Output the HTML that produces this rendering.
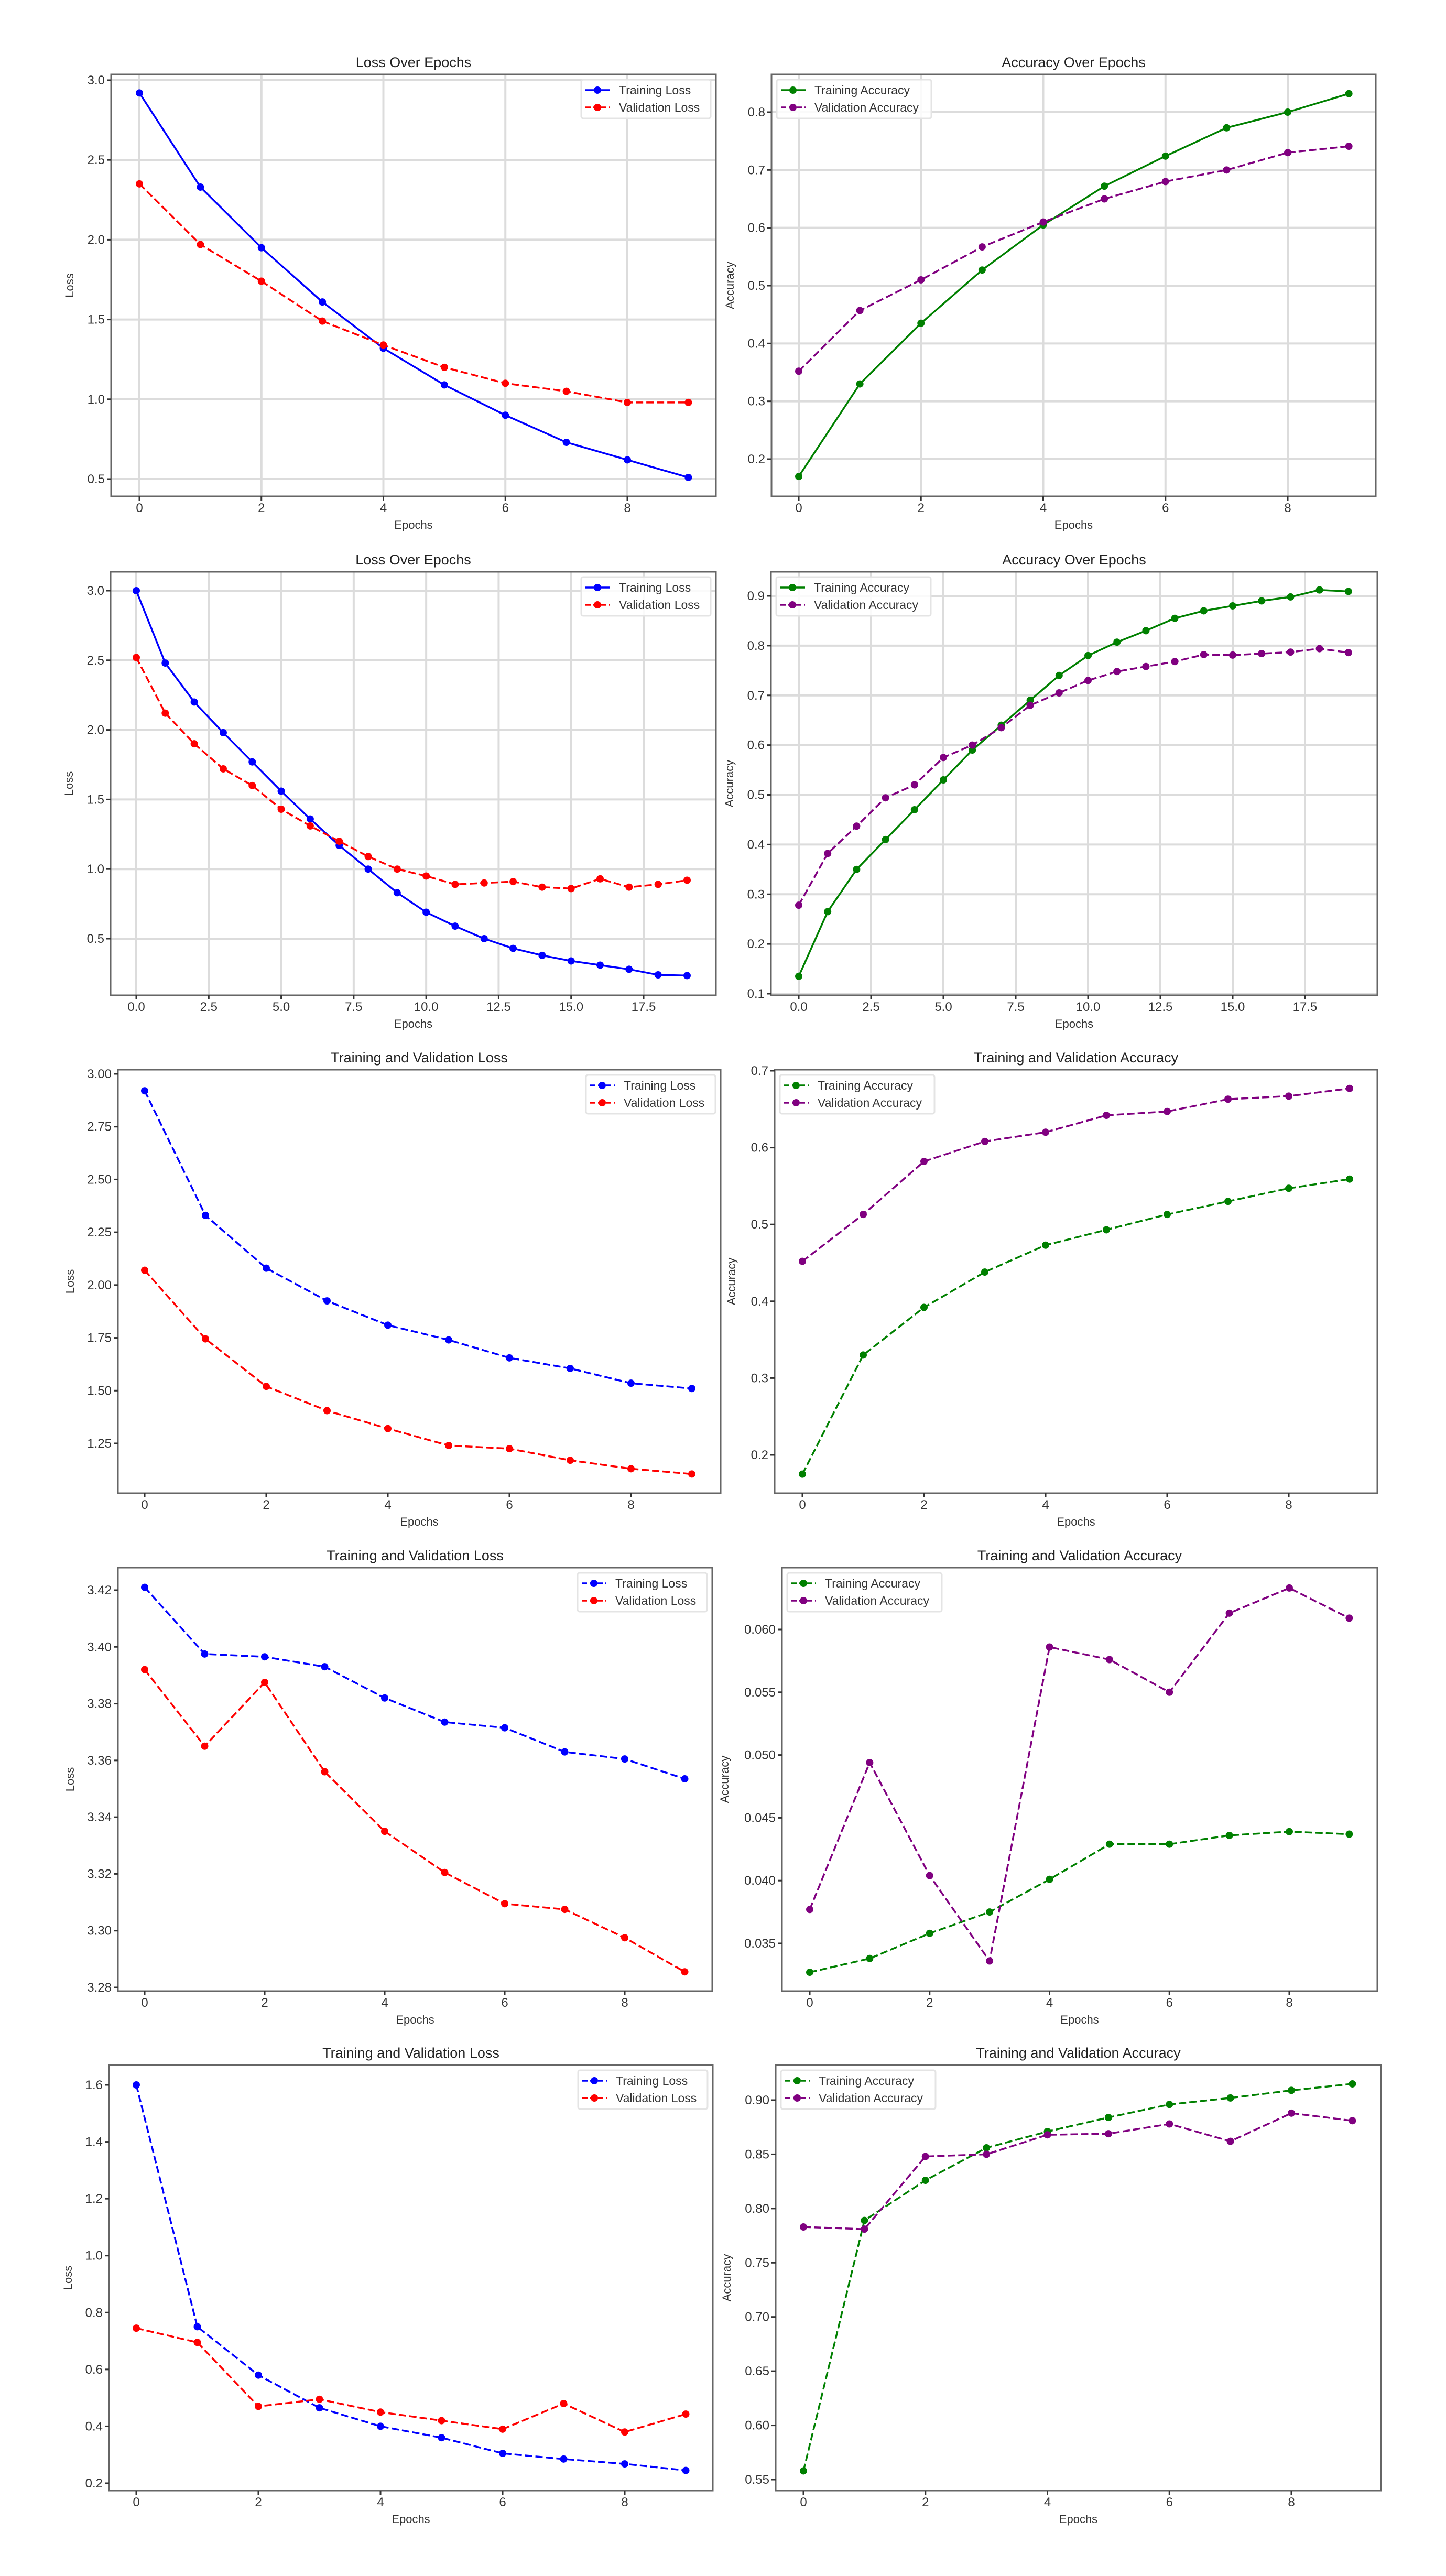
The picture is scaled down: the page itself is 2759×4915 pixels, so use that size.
<!DOCTYPE html>
<html><head><meta charset="utf-8"><style>
html,body{margin:0;padding:0;background:#fff;}
svg{display:block;font-family:"Liberation Sans",sans-serif;}
</style></head>
<body>
<svg id="fig" xmlns="http://www.w3.org/2000/svg" width="2759" height="4915" viewBox="0 0 2759 4915"></svg>
<script>
// ---- data ----
const epochs10 = [0,1,2,3,4,5,6,7,8,9];
const epochs20 = [0,1,2,3,4,5,6,7,8,9,10,11,12,13,14,15,16,17,18,19];
const xTicks10 = [0,2,4,6,8];
const xTickLabels10 = ["0","2","4","6","8"];
const xTicks20 = [0,2.5,5,7.5,10,12.5,15,17.5];
const xTickLabels20 = ["0.0","2.5","5.0","7.5","10.0","12.5","15.0","17.5"];

const r1TrainLoss = [2.92,2.33,1.95,1.61,1.32,1.09,0.90,0.73,0.62,0.51];
const r1ValLoss = [2.35,1.97,1.74,1.49,1.34,1.20,1.10,1.05,0.98,0.98];
const r1TrainAcc = [0.17,0.33,0.435,0.527,0.605,0.672,0.724,0.773,0.80,0.832];
const r1ValAcc = [0.352,0.457,0.51,0.567,0.61,0.65,0.68,0.70,0.73,0.741];

const r2TrainLoss = [3.0,2.48,2.2,1.98,1.77,1.56,1.36,1.17,1.0,0.83,0.69,0.59,0.50,0.43,0.38,0.34,0.31,0.28,0.24,0.235];
const r2ValLoss = [2.52,2.12,1.90,1.72,1.60,1.43,1.31,1.20,1.09,1.00,0.95,0.89,0.90,0.91,0.87,0.86,0.93,0.87,0.89,0.92];
const r2TrainAcc = [0.135,0.265,0.35,0.41,0.47,0.53,0.59,0.64,0.69,0.74,0.78,0.807,0.83,0.855,0.87,0.88,0.89,0.898,0.912,0.909];
const r2ValAcc = [0.278,0.382,0.437,0.494,0.52,0.575,0.60,0.635,0.68,0.705,0.73,0.748,0.758,0.768,0.782,0.781,0.784,0.787,0.794,0.786];

const r3TrainLoss = [2.92,2.33,2.08,1.925,1.81,1.74,1.655,1.605,1.535,1.51];
const r3ValLoss = [2.07,1.745,1.52,1.405,1.32,1.24,1.225,1.17,1.13,1.105];
const r3TrainAcc = [0.175,0.33,0.392,0.438,0.473,0.493,0.513,0.53,0.547,0.559];
const r3ValAcc = [0.452,0.513,0.582,0.608,0.62,0.642,0.647,0.663,0.667,0.677];

const r4TrainLoss = [3.421,3.3975,3.3965,3.393,3.382,3.3735,3.3715,3.363,3.3605,3.3535];
const r4ValLoss = [3.392,3.365,3.3875,3.356,3.335,3.3205,3.3095,3.3075,3.2975,3.2855];
const r4TrainAcc = [0.0327,0.0338,0.0358,0.0375,0.0401,0.0429,0.0429,0.0436,0.0439,0.0437];
const r4ValAcc = [0.0377,0.0494,0.0404,0.0336,0.0586,0.0576,0.0550,0.0613,0.0633,0.0609];

const r5TrainLoss = [1.60,0.75,0.58,0.465,0.40,0.36,0.305,0.285,0.268,0.245];
const r5ValLoss = [0.745,0.695,0.47,0.495,0.45,0.42,0.39,0.48,0.38,0.443];
const r5TrainAcc = [0.558,0.789,0.826,0.856,0.871,0.884,0.896,0.902,0.909,0.915];
const r5ValAcc = [0.783,0.781,0.848,0.85,0.868,0.869,0.878,0.862,0.888,0.881];

const lossTicks1 = [0.5,1.0,1.5,2.0,2.5,3.0];
const lossTickLabels1 = ["0.5","1.0","1.5","2.0","2.5","3.0"];
const accTicks1 = [0.2,0.3,0.4,0.5,0.6,0.7,0.8];
const accTickLabels1 = ["0.2","0.3","0.4","0.5","0.6","0.7","0.8"];
const accTicks2 = [0.1,0.2,0.3,0.4,0.5,0.6,0.7,0.8,0.9];
const accTickLabels2 = ["0.1","0.2","0.3","0.4","0.5","0.6","0.7","0.8","0.9"];
const lossTicks3 = [1.25,1.5,1.75,2.0,2.25,2.5,2.75,3.0];
const lossTickLabels3 = ["1.25","1.50","1.75","2.00","2.25","2.50","2.75","3.00"];
const accTicks3 = [0.2,0.3,0.4,0.5,0.6,0.7];
const accTickLabels3 = ["0.2","0.3","0.4","0.5","0.6","0.7"];
const lossTicks4 = [3.28,3.30,3.32,3.34,3.36,3.38,3.40,3.42];
const lossTickLabels4 = ["3.28","3.30","3.32","3.34","3.36","3.38","3.40","3.42"];
const accTicks4 = [0.035,0.040,0.045,0.050,0.055,0.060];
const accTickLabels4 = ["0.035","0.040","0.045","0.050","0.055","0.060"];
const lossTicks5 = [0.2,0.4,0.6,0.8,1.0,1.2,1.4,1.6];
const lossTickLabels5 = ["0.2","0.4","0.6","0.8","1.0","1.2","1.4","1.6"];
const accTicks5 = [0.55,0.60,0.65,0.70,0.75,0.80,0.85,0.90];
const accTickLabels5 = ["0.55","0.60","0.65","0.70","0.75","0.80","0.85","0.90"];

// ---- drawing ----
const NS = "http://www.w3.org/2000/svg";
const svg = document.getElementById("fig");
function mk(tag, parent){ const e=document.createElementNS(NS,tag); parent.appendChild(e); return e; }
function setA(e,o){ for(const k in o) e.setAttribute(k,o[k]); }

function panel(p){
  const g = mk("g", svg);
  
  
  const X = v => p.px0 + (v - p.xv0) * (p.px1 - p.px0) / (p.xv1 - p.xv0);
  const Y = v => p.py0 + (v - p.yv0) * (p.py1 - p.py0) / (p.yv1 - p.yv0);
  if (p.grid){
    p.xticks.forEach(t=>{ const l=mk("line",g); setA(l,{x1:X(t),x2:X(t),y1:p.top,y2:p.bottom,stroke:"#dcdcdc","stroke-width":4});
        });
    p.yticks.forEach(t=>{ const l=mk("line",g); setA(l,{x1:p.left,x2:p.right,y1:Y(t),y2:Y(t),stroke:"#dcdcdc","stroke-width":4});
        });
  }
  const fr = mk("rect", g);
  setA(fr,{x:p.left,y:p.top,width:p.right-p.left,height:p.bottom-p.top,fill:"none",stroke:"#666","stroke-width":3});
  
  
  p.xticks.forEach((t,i)=>{
    const l=mk("line",g); setA(l,{x1:X(t),x2:X(t),y1:p.bottom,y2:p.bottom+8,stroke:"#333","stroke-width":3});
     
    const tx=mk("text",g); setA(tx,{x:X(t),y:p.bottom+30,"font-size":24,"text-anchor":"middle",fill:"#333"}); tx.textContent=p.xlabels[i];
     
  });
  p.yticks.forEach((t,i)=>{
    const l=mk("line",g); setA(l,{x1:p.left-8,x2:p.left,y1:Y(t),y2:Y(t),stroke:"#333","stroke-width":3});
     
    const tx=mk("text",g); setA(tx,{x:p.left-12,y:Y(t)+8,"font-size":24,"text-anchor":"end",fill:"#333"}); tx.textContent=p.ylabels[i];
     
  });
  const tt=mk("text",g); setA(tt,{x:(p.left+p.right)/2,y:p.top-14,"font-size":27,"text-anchor":"middle",fill:"#222"}); tt.textContent=p.title;
   
  const xl=mk("text",g); setA(xl,{x:(p.left+p.right)/2,y:p.bottom+62,"font-size":22,"text-anchor":"middle",fill:"#333"}); xl.textContent="Epochs";
   
  const yl=mk("text",g); const yx=p.left-p.ylOff, yy=(p.top+p.bottom)/2;
  setA(yl,{x:yx,y:yy,"font-size":22,"text-anchor":"middle",fill:"#333",transform:`rotate(-90 ${yx} ${yy})`}); yl.textContent=p.ylabel;
   
  p.series.forEach(s=>{
    const pl=mk("polyline",g);
    setA(pl,{points:s.data.map((v,i)=>X(p.xs[i])+","+Y(v)).join(" "),fill:"none",stroke:s.color,"stroke-width":3.5,"stroke-dasharray":s.dash?"14,6":"none"});
     
    s.data.forEach((v,i)=>{
      const c=mk("circle",g); setA(c,{cx:X(p.xs[i]),cy:Y(v),r:7,fill:s.color});
       
    });
  });
  const lw = p.legendW, lh = 74;
  const lx = p.legendRight ? p.right - 10 - lw : p.left + 10, ly = p.top + 10;
  const lg = mk("g", g);
  
  
  const bx=mk("rect",lg); setA(bx,{x:lx,y:ly,width:lw,height:lh,rx:4,fill:"rgba(255,255,255,0.85)",stroke:"#e4e4e4","stroke-width":3});
   
  p.series.forEach((s,i)=>{
    const cy = ly + 20 + i*33;
    const hl=mk("line",lg); setA(hl,{x1:lx+8,x2:lx+55,y1:cy,y2:cy,stroke:s.color,"stroke-width":3.5,"stroke-dasharray":s.dash?"10,5":"none"});
     
    const hc=mk("circle",lg); setA(hc,{cx:lx+31,cy:cy,r:7,fill:s.color});
     
    const ht=mk("text",lg); setA(ht,{x:lx+72,y:cy+8,"font-size":23,fill:"#333"}); ht.textContent=s.label;
     
  });
}

const lossSeries = (tr,va,dashTr)=>[{key:"training-loss",label:"Training Loss",data:tr,color:"#0000ff",dash:dashTr},{key:"validation-loss",label:"Validation Loss",data:va,color:"#ff0000",dash:true}];
const accSeries = (tr,va,dashTr)=>[{key:"training-accuracy",label:"Training Accuracy",data:tr,color:"#008000",dash:dashTr},{key:"validation-accuracy",label:"Validation Accuracy",data:va,color:"#800080",dash:true}];

panel({name:"loss-chart-1",title:"Loss Over Epochs",ylabel:"Loss",ylOff:72,grid:true,left:212,right:1366,top:142,bottom:947,
  xs:epochs10,xv0:0,xv1:8,px0:266,px1:1197,yv0:3.0,yv1:0.5,py0:153,py1:914,
  xticks:xTicks10,xlabels:xTickLabels10,yticks:lossTicks1,ylabels:lossTickLabels1,
  series:lossSeries(r1TrainLoss,r1ValLoss,false),legendRight:true,legendW:247});
panel({name:"accuracy-chart-1",title:"Accuracy Over Epochs",ylabel:"Accuracy",ylOff:72,grid:true,left:1472,right:2625,top:142,bottom:947,
  xs:epochs10,xv0:0,xv1:8,px0:1524,px1:2457,yv0:0.8,yv1:0.2,py0:214,py1:876,
  xticks:xTicks10,xlabels:xTickLabels10,yticks:accTicks1,ylabels:accTickLabels1,
  series:accSeries(r1TrainAcc,r1ValAcc,false),legendRight:false,legendW:295});
panel({name:"loss-chart-2",title:"Loss Over Epochs",ylabel:"Loss",ylOff:72,grid:true,left:211,right:1366,top:1091,bottom:1899,
  xs:epochs20,xv0:0,xv1:17.5,px0:260,px1:1228,yv0:3.0,yv1:0.5,py0:1127,py1:1791,
  xticks:xTicks20,xlabels:xTickLabels20,yticks:lossTicks1,ylabels:lossTickLabels1,
  series:lossSeries(r2TrainLoss,r2ValLoss,false),legendRight:true,legendW:247});
panel({name:"accuracy-chart-2",title:"Accuracy Over Epochs",ylabel:"Accuracy",ylOff:72,grid:true,left:1471,right:2628,top:1091,bottom:1899,
  xs:epochs20,xv0:0,xv1:17.5,px0:1524,px1:2490,yv0:0.9,yv1:0.1,py0:1137,py1:1896,
  xticks:xTicks20,xlabels:xTickLabels20,yticks:accTicks2,ylabels:accTickLabels2,
  series:accSeries(r2TrainAcc,r2ValAcc,false),legendRight:false,legendW:295});
panel({name:"loss-chart-3",title:"Training and Validation Loss",ylabel:"Loss",ylOff:84,grid:false,left:225,right:1375,top:2041,bottom:2849,
  xs:epochs10,xv0:0,xv1:8,px0:276,px1:1204,yv0:3.0,yv1:1.25,py0:2049,py1:2754,
  xticks:xTicks10,xlabels:xTickLabels10,yticks:lossTicks3,ylabels:lossTickLabels3,
  series:lossSeries(r3TrainLoss,r3ValLoss,true),legendRight:true,legendW:247});
panel({name:"accuracy-chart-3",title:"Training and Validation Accuracy",ylabel:"Accuracy",ylOff:75,grid:false,left:1478,right:2628,top:2041,bottom:2849,
  xs:epochs10,xv0:0,xv1:8,px0:1531,px1:2459,yv0:0.7,yv1:0.2,py0:2043,py1:2776,
  xticks:xTicks10,xlabels:xTickLabels10,yticks:accTicks3,ylabels:accTickLabels3,
  series:accSeries(r3TrainAcc,r3ValAcc,true),legendRight:false,legendW:295});
panel({name:"loss-chart-4",title:"Training and Validation Loss",ylabel:"Loss",ylOff:84,grid:false,left:225,right:1359,top:2991,bottom:3799,
  xs:epochs10,xv0:0,xv1:8,px0:276,px1:1192,yv0:3.42,yv1:3.28,py0:3034,py1:3792,
  xticks:xTicks10,xlabels:xTickLabels10,yticks:lossTicks4,ylabels:lossTickLabels4,
  series:lossSeries(r4TrainLoss,r4ValLoss,true),legendRight:true,legendW:247});
panel({name:"accuracy-chart-4",title:"Training and Validation Accuracy",ylabel:"Accuracy",ylOff:102,grid:false,left:1492,right:2628,top:2991,bottom:3799,
  xs:epochs10,xv0:0,xv1:8,px0:1545,px1:2460,yv0:0.060,yv1:0.035,py0:3109,py1:3708,
  xticks:xTicks10,xlabels:xTickLabels10,yticks:accTicks4,ylabels:accTickLabels4,
  series:accSeries(r4TrainAcc,r4ValAcc,true),legendRight:false,legendW:295});
panel({name:"loss-chart-5",title:"Training and Validation Loss",ylabel:"Loss",ylOff:71,grid:false,left:208,right:1360,top:3940,bottom:4752,
  xs:epochs10,xv0:0,xv1:8,px0:260,px1:1192,yv0:1.6,yv1:0.2,py0:3978,py1:4738,
  xticks:xTicks10,xlabels:xTickLabels10,yticks:lossTicks5,ylabels:lossTickLabels5,
  series:lossSeries(r5TrainLoss,r5ValLoss,true),legendRight:true,legendW:247});
panel({name:"accuracy-chart-5",title:"Training and Validation Accuracy",ylabel:"Accuracy",ylOff:86,grid:false,left:1480,right:2635,top:3940,bottom:4752,
  xs:epochs10,xv0:0,xv1:8,px0:1533,px1:2464,yv0:0.90,yv1:0.55,py0:4007,py1:4731,
  xticks:xTicks10,xlabels:xTickLabels10,yticks:accTicks5,ylabels:accTickLabels5,
  series:accSeries(r5TrainAcc,r5ValAcc,true),legendRight:false,legendW:295});
</script>
</body></html>
